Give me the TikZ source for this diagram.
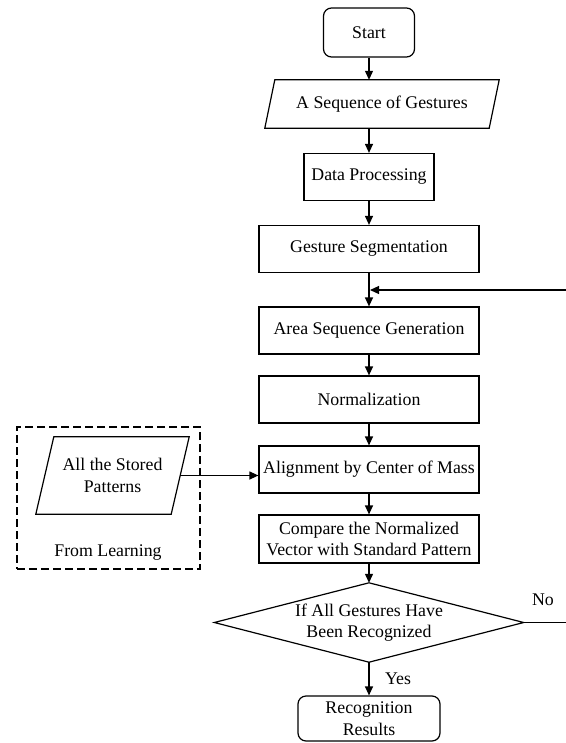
\documentclass[tikz,border=0pt]{standalone}
\usepackage{fontspec}
\setmainfont{Liberation Serif}
\usetikzlibrary{arrows.meta,calc}
\begin{document}
\begin{tikzpicture}[x=1bp,y=-1bp,
  every node/.style={font=\fontsize{17.8bp}{21.5bp}\selectfont, align=center, inner sep=0pt},
  proc/.style={draw, line width=1.2bp, minimum width=220bp, minimum height=47bp},
  term/.style={draw, line width=1.2bp, rounded corners=8bp},
  arr/.style={line width=1.2bp, -{Triangle[width=8bp,length=9bp]}},
  ln/.style={line width=1.2bp},
]
\useasboundingbox (0,0) rectangle (566,743);
% main column
\node[term, minimum width=91bp, minimum height=49bp] (start) at (369,32.5) {Start};
\node[minimum width=234bp, minimum height=48bp] (seq) at (382,104) {A Sequence of Gestures};
\draw[ln] ($(seq.north west)+(10,0)$) -- (seq.north east) -- ($(seq.south east)+(-10,0)$) -- (seq.south west) -- cycle;
\node[proc, minimum width=130bp] (data) at (369,177) {Data Processing};
\node[proc] (seg) at (369,249) {Gesture Segmentation};
\node[proc] (area) at (369,330.5) {Area Sequence Generation};
\node[proc] (norm) at (369,399.5) {Normalization};
\node[proc] (align) at (369,469.5) {Alignment by Center of Mass};
\node[proc, minimum height=48bp] (comp) at (369,539) {Compare the Normalized\\Vector with Standard Pattern};
\node[minimum width=309bp, minimum height=79bp] (dec) at (369,622.5) {If All Gestures Have\\Been Recognized};
\draw[ln] (dec.west) -- (dec.north) -- (dec.east) -- (dec.south) -- cycle;
\node[term, minimum width=142bp, minimum height=45bp] (rec) at (369,718.5) {Recognition\\Results};
% left panel
\node[draw, dash pattern=on 8bp off 4bp, line width=1.2bp, minimum width=183bp, minimum height=142bp] (learn) at (108.5,498) {};
\node[minimum width=153bp, minimum height=77bp] (sp) at (112.5,475.5) {All the Stored\\Patterns};
\draw[ln] ($(sp.north west)+(18,0)$) -- (sp.north east) -- ($(sp.south east)+(-18,0)$) -- (sp.south west) -- cycle;
\coordinate (spR) at ($(sp.east)+(-9,0)$);
\node (fl) at (108,553) {From Learning};
% connectors
\draw[arr] (start.south) -- (start.south |- seq.north);
\draw[arr] (start.south |- seq.south) -- (data.north);
\draw[arr] (data) -- (seg);
\draw[arr] (seg) -- (area);
\coordinate (j) at (370,290);
\coordinate (fb) at (566,290);
\draw[arr] (fb) -- (j);
\draw[arr] (area) -- (norm);
\draw[arr] (norm) -- (align);
\draw[arr] (align) -- (comp);
\draw[arr] (comp) -- (dec.north);
\draw[arr] (dec.south) -- (rec);
\draw[arr] (spR) -- (spR -| align.west);
\coordinate (noR) at (566,622.5);
\draw[ln] (dec.east) -- (noR);
\node (no) at (543,600) {No};
\node (yes) at (398,679) {Yes};
\end{tikzpicture}
\end{document}
